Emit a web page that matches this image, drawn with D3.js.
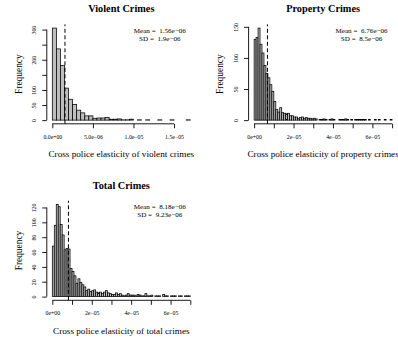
<!DOCTYPE html>
<html>
<head>
<meta charset="utf-8">
<script src="https://cdn.jsdelivr.net/npm/d3@7"></script>
<style>
  body { margin: 0; background: #fff; color: #000; }
  svg { display: block; }
  text { font-family: "Liberation Serif", "Times New Roman", serif; fill: #000; }
</style>
</head>
<body>
<svg width="398" height="341"></svg>
<script>
// histogram counts
const violentCounts = [305, 236, 181, 106, 69, 52, 33, 24, 14, 14, 6, 7, 7, 9, 3, 3, 4, 1, 1, 3,
  0, 1, 0, 1, 0, 0, 1, 0, 0, 1, 0, 0, 0, 1];
const violentBin = 5e-7;

const propertyCounts = [130, 133, 148, 122, 108, 88, 75, 68, 57, 46, 30, 17, 13, 20, 12, 11, 10, 11, 7, 7,
  5, 5, 3, 4, 5, 3, 4, 3, 3, 2, 3, 2, 0, 1, 1, 2, 1, 0, 1, 2,
  1, 0, 0, 1, 1, 1, 2, 1, 0, 1, 0, 1, 1, 1, 1, 1, 1, 0, 1, 0,
  0, 1, 0, 1, 0, 0, 1, 0, 0, 1];
const propertyBin = 1e-6;

const totalCounts = [68, 96, 124, 121, 97, 83, 63, 65, 64, 38, 34, 28, 18, 24, 19, 16, 13, 8, 10, 7,
  8, 9, 6, 5, 6, 4, 6, 8, 5, 4, 3, 3, 5, 3, 4, 2, 1, 2, 4, 2,
  2, 2, 1, 3, 2, 1, 1, 4, 1, 1, 2, 0, 1, 1, 1, 0, 3, 1, 1, 0,
  1, 1, 1, 0, 1, 1, 0, 1, 1, 1];
const totalBin = 1e-6;

const titles = ["Violent Crimes", "Property Crimes", "Total Crimes"];
const xTitles = ["Cross police elasticity of violent crimes",
  "Cross police elasticity of property crimes",
  "Cross police elasticity of total crimes"];
const means = [1.56e-6, 6.76e-6, 8.18e-6];
const meanLabels = ["Mean =  1.56e\u221206", "Mean =  6.76e\u221206", "Mean =  8.18e\u221206"];
const sdLabels = ["SD =  1.9e\u221206", "SD =  8.5e\u221206", "SD =  9.23e\u221206"];

const violentXTicks = [0, 5e-6, 1e-5, 1.5e-5];
const violentXLabels = ["0.0e+00", "5.0e\u221206", "1.0e\u221205", "1.5e\u221205"];
const wideXTicks = [0, 1e-5, 2e-5, 3e-5, 4e-5, 5e-5, 6e-5, 7e-5];
const wideXLabels = ["0e+00", "", "2e\u221205", "", "4e\u221205", "", "6e\u221205", ""];

const violentYTicks = [0, 50, 100, 150, 200, 250, 300];
const violentYLabels = ["0", "50", "100", "", "200", "", "300"];
const propertyYTicks = [0, 50, 100, 150];
const totalYTicks = [0, 20, 40, 60, 80, 100, 120];

const svg = d3.select("svg");
svg.append("rect").attr("width", 398).attr("height", 341).attr("fill", "#fff");

const panels = [
  {counts: violentCounts, bin: violentBin, xTicks: violentXTicks, xLabels: violentXLabels,
   yTicks: violentYTicks, yLabels: violentYLabels, fill: "#bebebe",
   left: 46.8, right: 195.8, top: 24.4, bottom: 123.8},
  {counts: propertyCounts, bin: propertyBin, xTicks: wideXTicks, xLabels: wideXLabels,
   yTicks: propertyYTicks, yLabels: propertyYTicks.map(String), fill: "#bebebe",
   left: 248.6, right: 397.6, top: 24.4, bottom: 123.8},
  {counts: totalCounts, bin: totalBin, xTicks: wideXTicks, xLabels: wideXLabels,
   yTicks: totalYTicks, yLabels: totalYTicks.map(String), fill: "#bebebe",
   left: 46.8, right: 195.8, top: 200.8, bottom: 300.3}
];

const drawPanel = (p, k) => {
  const xmax = p.counts.length * p.bin;
  const ymax = d3.max(p.counts);
  const x = d3.scaleLinear().domain([-0.04 * xmax, 1.04 * xmax]).range([p.left, p.right]);
  const y = d3.scaleLinear().domain([-0.04 * ymax, 1.04 * ymax]).range([p.bottom, p.top]);
  const g = svg.append("g");

  g.selectAll("rect.bar")
    .data(p.counts)
    .enter().append("rect")
      .attr("class", "bar")
      .attr("x", (d, i) => x(i * p.bin))
      .attr("width", (d, i) => x((i + 1) * p.bin) - x(i * p.bin))
      .attr("y", d => y(d))
      .attr("height", d => y(0) - y(d))
      .attr("fill", p.fill)
      .attr("stroke", "#000")
      .attr("stroke-width", 0.75);

  // mean line
  g.append("line")
    .attr("x1", x(means[k])).attr("x2", x(means[k]))
    .attr("y1", p.bottom).attr("y2", p.top)
    .attr("stroke", "#000").attr("stroke-width", 1)
    .attr("stroke-dasharray", "4,2.5");

  // x axis
  const xAxisG = g.append("g")
    .attr("transform", "translate(0," + p.bottom + ")")
    .call(d3.axisBottom(x).tickValues(p.xTicks).tickSize(4.5)
      .tickFormat((d, i) => p.xLabels[i]));
  xAxisG.select(".domain").remove();
  xAxisG.append("line")
    .attr("x1", x(p.xTicks[0])).attr("x2", x(p.xTicks[p.xTicks.length - 1]))
    .attr("stroke", "#000").attr("stroke-width", 0.9);
  xAxisG.selectAll(".tick line").attr("stroke", "#000").attr("stroke-width", 0.9);
  xAxisG.selectAll(".tick text")
    .attr("y", 15).attr("dy", null).attr("fill", "#000")
    .attr("font-family", "Liberation Serif").attr("font-size", 5.8);

  // y axis
  const yAxisG = g.append("g")
    .attr("transform", "translate(" + p.left + ",0)")
    .call(d3.axisLeft(y).tickValues(p.yTicks).tickSize(4.5)
      .tickFormat((d, i) => p.yLabels[i]));
  yAxisG.select(".domain").remove();
  yAxisG.append("line")
    .attr("y1", y(p.yTicks[0])).attr("y2", y(p.yTicks[p.yTicks.length - 1]))
    .attr("stroke", "#000").attr("stroke-width", 0.9);
  yAxisG.selectAll(".tick line").attr("stroke", "#000").attr("stroke-width", 0.9);
  yAxisG.selectAll(".tick text")
    .attr("x", null).attr("dy", null).attr("fill", "#000")
    .attr("text-anchor", "middle")
    .attr("transform", "translate(-10.6,0) rotate(-90)")
    .attr("font-family", "Liberation Serif").attr("font-size", 5.8);

  const cx = (p.left + p.right) / 2;
  g.append("text")
    .attr("x", cx).attr("y", p.top - 12)
    .attr("text-anchor", "middle")
    .attr("font-weight", "bold").attr("font-size", 10.3)
    .text(titles[k]);

  g.append("text")
    .attr("x", cx).attr("y", p.bottom + 33.5)
    .attr("text-anchor", "middle").attr("font-size", 9.2)
    .text(xTitles[k]);

  g.append("text")
    .attr("transform", "translate(" + (p.left - 25.2) + "," + ((p.top + p.bottom) / 2) + ") rotate(-90)")
    .attr("text-anchor", "middle").attr("font-size", 9.4)
    .text("Frequency");

  const sx = p.right - 36;
  g.append("text")
    .attr("x", sx).attr("y", p.top + 8.4)
    .attr("text-anchor", "middle").attr("font-size", 7.1)
    .style("white-space", "pre")
    .text(meanLabels[k]);
  g.append("text")
    .attr("x", sx).attr("y", p.top + 16.2)
    .attr("text-anchor", "middle").attr("font-size", 7.1)
    .style("white-space", "pre")
    .text(sdLabels[k]);
};

panels.forEach(drawPanel);
</script>
</body>
</html>
